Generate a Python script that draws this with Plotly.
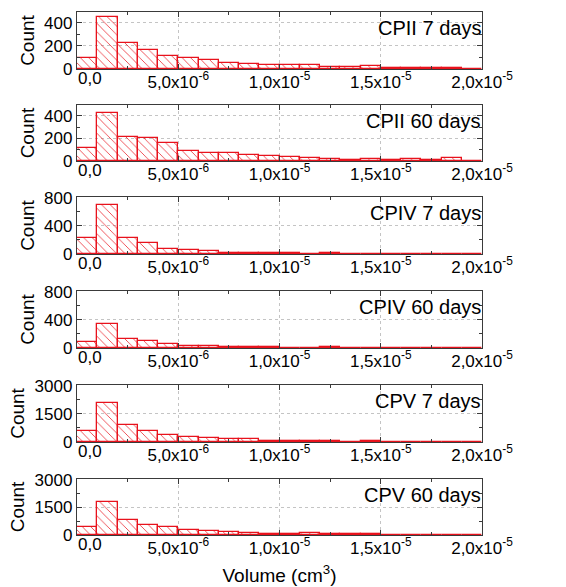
import plotly.graph_objects as go

# Histogram bins: 20 bins of width 1e-6 cm^3 from 0 to 2e-5
bin_width = 1.0e-6
bin_centers = [(i + 0.5) * bin_width for i in range(20)]

# Counts per bin for each cement / curing age
cpii_7 = [96, 455, 222, 168, 110, 92, 75, 52, 46, 36, 32, 32, 18, 14, 24, 10, 8, 8, 5, 3]
cpii_60 = [117, 428, 216, 202, 158, 88, 70, 70, 56, 45, 36, 28, 14, 8, 18, 12, 18, 10, 24, 3]
cpiv_7 = [225, 700, 230, 160, 72, 52, 42, 18, 18, 10, 8, 4, 10, 4, 3, 3, 3, 3, 3, 0]
cpiv_60 = [88, 338, 125, 95, 55, 35, 25, 12, 12, 12, 5, 5, 15, 3, 3, 3, 3, 3, 0, 5]
cpv_7 = [560, 2060, 900, 600, 360, 260, 230, 150, 150, 80, 50, 40, 30, 15, 50, 15, 10, 10, 5, 10]
cpv_60 = [420, 1760, 800, 560, 420, 260, 220, 160, 120, 80, 60, 90, 30, 40, 40, 20, 15, 10, 10, 15]

series = [cpii_7, cpii_60, cpiv_7, cpiv_60, cpv_7, cpv_60]
panel_labels = ["CPII 7 days", "CPII 60 days", "CPIV 7 days",
                "CPIV 60 days", "CPV 7 days", "CPV 60 days"]

# y-axis tick values per panel
y_ticks = [[0, 200, 400], [0, 200, 400], [0, 400, 800],
           [0, 400, 800], [0, 1500, 3000], [0, 1500, 3000]]
y_max = [495, 495, 810, 810, 3030, 3030]

# x-axis tick values / labels; the origin label is drawn separately,
# set just right of the axis corner so it clears the y tick labels
x_tickvals = [0, 5e-6, 1e-5, 1.5e-5, 2e-5]
x_ticktext = ["", "5,0x10<sup>-6</sup>", "1,0x10<sup>-5</sup>",
              "1,5x10<sup>-5</sup>", "2,0x10<sup>-5</sup>"]
x_origin_label = "0,0"

W, H = 566, 587
# panel frames in pixels (top, bottom)
frames = [(12, 69), (105, 161), (197, 254), (291, 348), (385, 442), (479, 535)]
x_left, x_right = 77, 482

RED = "#e8121c"
FRAME = "#3a3a3a"
FONT = "Liberation Sans, Arial, sans-serif"

fig = go.Figure()
layout = dict(
    width=W, height=H,
    margin=dict(l=0, r=0, t=0, b=0, autoexpand=False),
    paper_bgcolor="white", plot_bgcolor="white",
    showlegend=False, bargap=0,
    font=dict(family=FONT, size=17, color="black"),
)
annotations = []

xdom = [x_left / W, x_right / W]
for k, (vals, lab) in enumerate(zip(series, panel_labels)):
    n = k + 1
    xa = "x" if n == 1 else f"x{n}"
    ya = "y" if n == 1 else f"y{n}"
    fig.add_trace(go.Bar(
        x=bin_centers, y=vals, width=bin_width,
        xaxis=xa, yaxis=ya,
        marker=dict(color=RED,
                    line=dict(color=RED, width=1.3),
                    pattern=dict(shape="\\", size=6, solidity=0.12,
                                 fgcolor=RED, fillmode="replace")),
    ))
    top, bot = frames[k]
    ydom = [1 - bot / H, 1 - top / H]
    step = y_ticks[k][1]
    layout["xaxis" if n == 1 else f"xaxis{n}"] = dict(
        domain=xdom, anchor=ya, range=[0, 2e-5], automargin=False,
        tickvals=x_tickvals, ticktext=x_ticktext, ticklabelstandoff=-3,
        ticks="inside", ticklen=5, tickcolor=FRAME, tickwidth=1,
        minor=dict(dtick=2.5e-6, tick0=0, ticks="inside", ticklen=3,
                   tickcolor=FRAME, showgrid=False),
        showline=True, linecolor=FRAME, linewidth=1.4, mirror="ticks",
        showgrid=True, gridcolor="#c4c4c4", griddash="dot", gridwidth=1,
        zeroline=False, tickfont=dict(size=17),
        title=dict(text="Volume (cm<sup>3</sup>)" if n == 6 else "",
                   font=dict(size=19), standoff=12),
    )
    layout["yaxis" if n == 1 else f"yaxis{n}"] = dict(
        domain=ydom, anchor=xa, range=[0, y_max[k]], automargin=False,
        tickvals=y_ticks[k],
        ticks="inside", ticklen=5, tickcolor=FRAME, tickwidth=1,
        minor=dict(dtick=step / 2, tick0=0, ticks="inside", ticklen=3,
                   tickcolor=FRAME, showgrid=False),
        showline=True, linecolor=FRAME, linewidth=1.4, mirror="ticks",
        showgrid=True, gridcolor="#c4c4c4", griddash="dot", gridwidth=1,
        zeroline=False, tickfont=dict(size=17),
        title=dict(text="Count", font=dict(size=19), standoff=4),
    )
    annotations.append(dict(
        text=lab, xref="paper", yref="paper",
        x=x_right / W + 0.002, y=1 - (top + 3) / H,
        xanchor="right", yanchor="top", showarrow=False,
        font=dict(size=20, family=FONT, color="black"),
    ))
    annotations.append(dict(
        text=x_origin_label, xref=xa, yref="paper",
        x=x_tickvals[0], xshift=-1, y=1 - (bot + 9) / H,
        xanchor="left", yanchor="middle", showarrow=False,
        font=dict(size=17, family=FONT, color="black"),
    ))

layout["annotations"] = annotations
fig.update_layout(**layout)
fig.write_html("out.html")
